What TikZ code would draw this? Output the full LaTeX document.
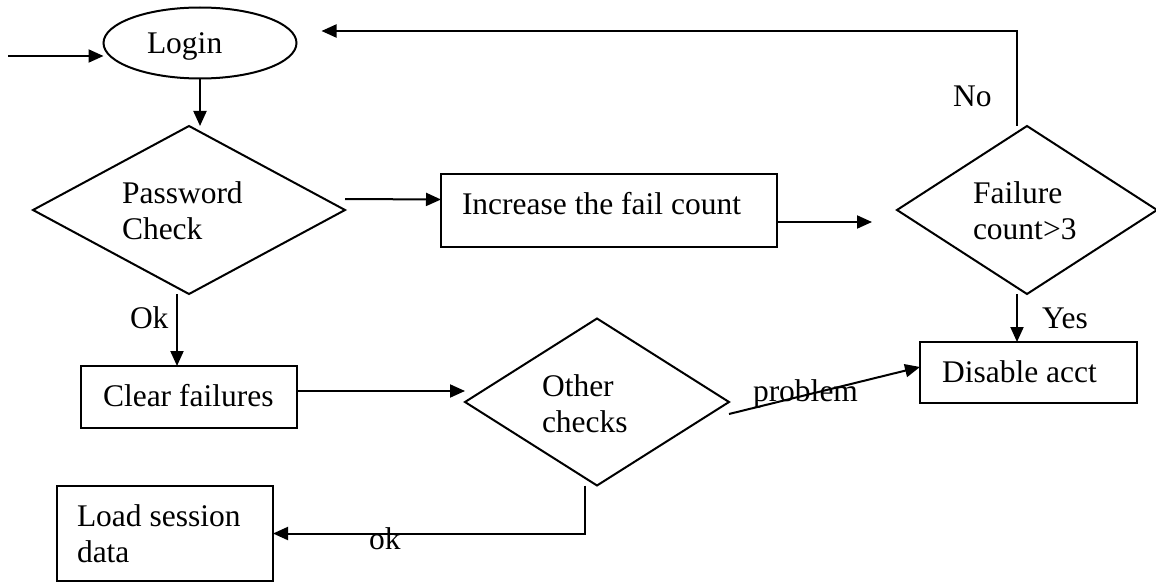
\documentclass[tikz,border=0pt]{standalone}
\usepackage{fontspec}
\setmainfont{Liberation Serif}
\usetikzlibrary{shapes.geometric,arrows.meta}

\begin{document}
\begin{tikzpicture}[x=1pt,y=-1pt,
  line width=2pt,
  every node/.style={inner sep=0pt,outer sep=0pt,font=\fontsize{31.5}{36}\selectfont},
  box/.style={draw,rectangle},
  oval/.style={draw,ellipse},
  decide/.style={draw,diamond},
  txt/.style={anchor=base west,align=left},
  arr/.style={-{Triangle[length=15pt,width=13pt]}}
]
\useasboundingbox (0,0) rectangle (1156,583);

% shapes
\node[oval,minimum width=193pt,minimum height=71pt] (login) at (200,43) {};
\node[decide,minimum width=312pt,minimum height=168pt] (pw) at (189,210) {};
\node[box,minimum width=336pt,minimum height=73pt] (inc) at (609,210.5) {};
\node[decide,minimum width=260pt,minimum height=168pt] (fail) at (1027,210) {};
\node[box,minimum width=217pt,minimum height=61pt] (dis) at (1028.5,372.5) {};
\node[box,minimum width=216pt,minimum height=62pt] (clear) at (189,397) {};
\node[decide,minimum width=264pt,minimum height=167pt] (other) at (597,402) {};
\node[box,minimum width=216pt,minimum height=95pt] (load) at (165,533.5) {};

% texts inside the shapes (multi-line nodes sit on their last baseline)
\node[txt] (loginT) at (147,54) {Login};
\node[txt] (pwT) at (122,239) {Password\\Check};
\node[txt] (incT) at (462,214) {Increase the fail count};
\node[txt] (failT) at (973,239) {Failure\\count>3};
\node[txt] (disT) at (942,382) {Disable acct};
\node[txt] (clearT) at (103,406) {Clear failures};
\node[txt] (otherT) at (542,432) {Other\\checks};
\node[txt] (loadT) at (77,562) {Load session\\data};

% connector labels
\node[txt] (noL) at (953,107) {No};
\node[txt] (yesL) at (1042,328) {Yes};
\node[txt] (okL) at (130,328) {Ok};
\node[txt] (probL) at (753,401) {problem};
\node[txt] (ok2L) at (369,549) {ok};

% connectors
\coordinate (entry) at (8,56);
\draw[arr] (entry) -- (entry -| login.west);
\draw[arr] (login.south) -- (login.south |- pw.north);
\draw[arr] ([yshift=11pt]pw.east) -- ([yshift=11pt]inc.west);
\draw[arr] ([yshift=-11.5pt]inc.east) -- ([xshift=-25pt,yshift=-12pt]fail.west);
\draw[arr] ([xshift=-10pt]fail.north) |- ([xshift=25pt,yshift=12pt]login.east);
\draw[arr] ([xshift=-10pt]fail.south) -- ([xshift=-11.5pt]dis.north);
\draw[arr] ([xshift=-12pt]pw.south) -- ([xshift=-12pt]clear.north);
\draw[arr] ([yshift=6pt]clear.east) -- ([yshift=11pt]other.west);
\draw[arr] ([yshift=-12pt]other.east) -- ([yshift=5.5pt]dis.west);
\draw[arr] ([xshift=-12pt]other.south) |- (load.east);
\end{tikzpicture}
\end{document}
